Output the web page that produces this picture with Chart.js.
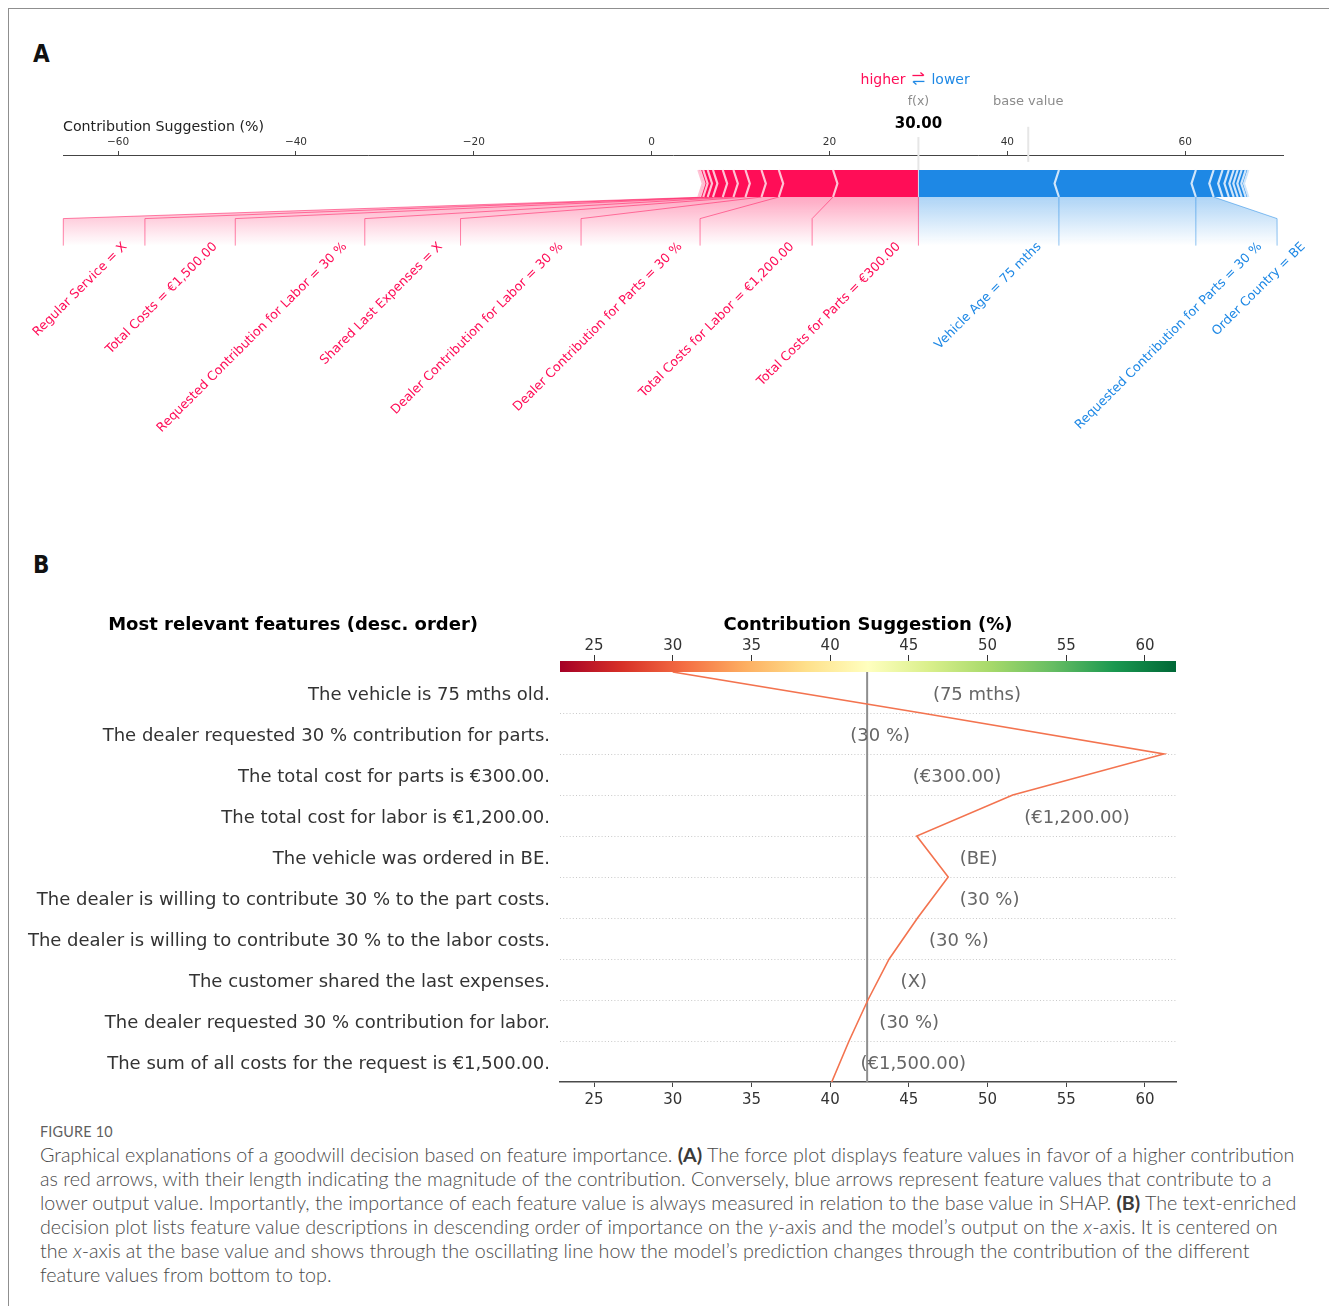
<!DOCTYPE html>
<html>
<head>
<meta charset="utf-8">
<title>Goodwill decision – SHAP force and decision plots</title>
<script src="https://cdn.jsdelivr.net/npm/chart.js@4.4.1/dist/chart.umd.min.js"></script>
<style>
  html, body { margin: 0; padding: 0; background: #fff; width: 1329px; height: 1306px; overflow: hidden; }
  #frame { position: absolute; left: 8px; top: 8px; width: 1400px; height: 1400px;
           border-left: 1.5px solid #8f8f8f; border-top: 1.5px solid #8f8f8f; }
  .panel-label { position: absolute; font-family: "Liberation Sans Narrow", "DejaVu Sans Condensed", "Liberation Sans", sans-serif;
                 font-weight: bold; font-size: 24px; line-height: 24px; color: #111; }
  #cvA { position: absolute; left: 0; top: 0; }
  #cvB { position: absolute; left: 0; top: 590px; }
  #caption { position: absolute; left: 40px; top: 1123px; font-family: Lato, "Open Sans", sans-serif; color: #4a4a4a; }
  #caption .fig { font-size: 14.4px; line-height: 18px; color: #5f5f5f; letter-spacing: 0.2px; margin-bottom: 2px; }
  #caption .ln { font-weight: 300; font-size: 17px; line-height: 24px; white-space: nowrap; }
  #caption b { font-weight: bold; color: #3a3a3a; }
</style>
</head>
<body>
<div id="frame"></div>
<div class="panel-label" style="left:33px; top:42px;">A</div>
<div class="panel-label" style="left:33px; top:553px;">B</div>
<canvas id="cvA" width="1329" height="480"></canvas>
<canvas id="cvB" width="1329" height="530"></canvas>
<div id="caption">
  <div class="fig">FIGURE 10</div>
  <div class="ln">Graphical explanations of a goodwill decision based on feature importance. <b>(A)</b> The force plot displays feature values in favor of a higher contribution</div>
  <div class="ln">as red arrows, with their length indicating the magnitude of the contribution. Conversely, blue arrows represent feature values that contribute to a</div>
  <div class="ln">lower output value. Importantly, the importance of each feature value is always measured in relation to the base value in SHAP. <b>(B)</b> The text-enriched</div>
  <div class="ln">decision plot lists feature value descriptions in descending order of importance on the <i>y</i>-axis and the model’s output on the <i>x</i>-axis. It is centered on</div>
  <div class="ln">the <i>x</i>-axis at the base value and shows through the oscillating line how the model’s prediction changes through the contribution of the different</div>
  <div class="ln">feature values from bottom to top.</div>
</div>
<script>
// ---------------- Panel A: force plot ----------------
const baseValue = 42.35;
const forceTicks = [-60, -40, -20, 0, 20, 40, 60];

// features pushing the prediction higher (largest first)
const posLabels = [
  'Total Costs for Parts = €300.00',
  'Total Costs for Labor = €1,200.00',
  'Dealer Contribution for Parts = 30 %',
  'Dealer Contribution for Labor = 30 %',
  'Shared Last Expenses = X',
  'Requested Contribution for Labor = 30 %',
  'Total Costs = €1,500.00',
  'Regular Service = X'
];
const posShap = [9.6, 6.1, 1.95, 1.8, 1.35, 1.2, 1.1, 0.6];
const posMinor = [0.5, 0.35, 0.2];            // small unlabelled contributions

// features pushing the prediction lower (largest first)
const negLabels = [
  'Vehicle Age = 75 mths',
  'Requested Contribution for Parts = 30 %',
  'Order Country = BE'
];
const negShap = [-15.8, -15.4, -2.0];
const negMinor = [-1.0, -0.7, -0.55, -0.45, -0.45, -0.45, -0.3];

// ---------------- Panel B: decision plot ----------------
const decisionLabels = [
  'The vehicle is 75 mths old.',
  'The dealer requested 30 % contribution for parts.',
  'The total cost for parts is €300.00.',
  'The total cost for labor is €1,200.00.',
  'The vehicle was ordered in BE.',
  'The dealer is willing to contribute 30 % to the part costs.',
  'The dealer is willing to contribute 30 % to the labor costs.',
  'The customer shared the last expenses.',
  'The dealer requested 30 % contribution for labor.',
  'The sum of all costs for the request is €1,500.00.'
];
const decisionShap = [-15.8, -15.4, 9.6, 6.1, -2.0, 1.95, 1.8, 1.35, 1.2, 1.1];
const decisionValues = ['75 mths', '30 %', '€300.00', '€1,200.00', 'BE', '30 %', '30 %', 'X', '30 %', '€1,500.00'];
const decisionTicks = [25, 30, 35, 40, 45, 50, 55, 60];

// ---------------- helpers ----------------
const FONT = '"DejaVu Sans", Verdana, sans-serif';
const RED = '#FF0D57', RED_LIGHT = '#FFC3D5', BLUE = '#1E88E5', BLUE_LIGHT = '#D1E6FA';
const RdYlGn = ['#a50026', '#d73027', '#f46d43', '#fdae61', '#fee08b', '#ffffbf',
                '#d9ef8b', '#a6d96a', '#66bd63', '#1a9850', '#006837'];
const sum = a => a.reduce((s, v) => s + v, 0);
const outputValue = baseValue + sum(posShap) + sum(posMinor) + sum(negShap) + sum(negMinor);

const minusFmt = v => (v < 0 ? '\u2212' + Math.abs(v) : String(v));

// ---------------- force plot drawing ----------------
const A_MIN = -66.2, A_MAX = 71.0;

const forcePlugin = {
  id: 'forcePlot',
  afterDraw(chart) {
    const ctx = chart.ctx, xs = chart.scales.x, ys = chart.scales.y;
    const X = v => xs.getPixelForValue(v), Y = v => ys.getPixelForValue(v);
    const fxPx = X(outputValue);
    const barH = 0.1;
    const indent = X(A_MIN + (A_MAX - A_MIN) / 280) - X(A_MIN);

    const posAll = posShap.concat(posMinor), negAll = negShap.concat(negMinor);
    const posEdges = []; let acc = outputValue;
    posAll.forEach(v => { acc -= v; posEdges.push(acc); });
    const negEdges = []; acc = outputValue;
    negAll.forEach(v => { acc -= v; negEdges.push(acc); });

    const poly = (pts) => { ctx.beginPath(); pts.forEach((p, i) => i ? ctx.lineTo(p[0], p[1]) : ctx.moveTo(p[0], p[1])); };

    ctx.save();

    // guide lines for f(x) and base value
    ctx.strokeStyle = '#e6e6e6'; ctx.lineWidth = 2;
    poly([[X(baseValue), Y(0.26)], [X(baseValue), Y(0.13)]]); ctx.stroke();
    poly([[fxPx, Y(0.222)], [fxPx, Y(0)]]); ctx.stroke();

    // label layout
    const labelSize = 12.7;
    const labelFont = `${labelSize}px ${FONT}`;
    ctx.font = labelFont;
    const c45 = Math.SQRT1_2, txtH = labelSize * 1.16, off = 14;
    function layout(labels, edges, sign) {
      let start = fxPx, lastVal = fxPx, lastEnd = fxPx;
      const items = [], paths = [];
      labels.forEach((lab, i) => {
        const val = X(edges[i]);
        const w = ctx.measureText(lab).width;
        const ext = c45 * (w + txtH);
        items.push({ lab, ax: start - sign * off, w });
        const boxEnd = start - sign * (31.5 + 0.5 * ext);
        if (sign * boxEnd > sign * val) {
          paths.push([[val, Y(0)], [val, Y(-0.18)]]);
          start = val; lastEnd = val;
        } else {
          paths.push([[val, Y(0)], [boxEnd, Y(-0.08)], [boxEnd, Y(-0.18)]]);
          start = boxEnd; lastEnd = boxEnd;
        }
        lastVal = val;
      });
      return { items, paths, lastVal, lastEnd };
    }
    const posL = layout(posLabels, posEdges, 1);
    const negL = layout(negLabels, negEdges, -1);

    // shaded fans under the bars
    function shade(L, rgb) {
      poly([[fxPx, Y(0)], [L.lastVal, Y(0)], [L.lastEnd, Y(-0.08)], [L.lastEnd, Y(-0.2)], [fxPx, Y(-0.2)]]);
      ctx.closePath();
      const g = ctx.createLinearGradient(0, Y(0), 0, Y(-0.18));
      g.addColorStop(0, `rgba(${rgb},0.36)`);
      g.addColorStop(1, `rgba(${rgb},0)`);
      ctx.fillStyle = g; ctx.fill();
    }
    shade(posL, '255,13,87');
    shade(negL, '30,136,229');

    // connector lines
    ctx.lineWidth = 1;
    ctx.strokeStyle = 'rgba(255,13,87,0.5)';
    poly([[fxPx, Y(0)], [fxPx, Y(-0.18)]]); ctx.stroke();
    posL.paths.forEach(p => { poly(p); ctx.stroke(); });
    ctx.strokeStyle = 'rgba(30,136,229,0.5)';
    negL.paths.forEach(p => { poly(p); ctx.stroke(); });

    // bars
    function bars(edges, sign, color, light) {
      const ind = sign * indent;
      const seps = [];
      edges.forEach((e, k) => {
        const prev = k === 0 ? outputValue : edges[k - 1];
        const sepPos = X(e);
        let pts;
        if (sign > 0) {
          const left = X(e), right = X(prev);
          pts = k === 0
            ? [[left, Y(0)], [right, Y(0)], [right, Y(barH)], [left, Y(barH)], [left + ind, Y(barH / 2)]]
            : [[left, Y(0)], [right, Y(0)], [right + ind * 0.9, Y(barH / 2)], [right, Y(barH)], [left, Y(barH)], [left + ind * 0.9, Y(barH / 2)]];
        } else {
          const left = X(prev), right = X(e);
          pts = k === 0
            ? [[right, Y(0)], [left, Y(0)], [left, Y(barH)], [right, Y(barH)], [right + ind, Y(barH / 2)]]
            : [[left, Y(0)], [right, Y(0)], [right + ind * 0.9, Y(barH / 2)], [right, Y(barH)], [left, Y(barH)], [left + ind * 0.9, Y(barH / 2)]];
        }
        poly(pts); ctx.closePath(); ctx.fillStyle = color; ctx.fill();
        seps.push([[sepPos, Y(0)], [sepPos + ind, Y(barH / 2)], [sepPos, Y(barH)]]);
      });
      ctx.strokeStyle = light; ctx.lineWidth = 2.2; ctx.lineJoin = 'miter';
      seps.forEach(s => { poly(s); ctx.stroke(); });
    }
    bars(posEdges, 1, RED, RED_LIGHT);
    bars(negEdges, -1, BLUE, BLUE_LIGHT);
    ctx.strokeStyle = 'rgba(255,255,255,0.7)'; ctx.lineWidth = 1;
    poly([[fxPx, Y(0)], [fxPx, Y(barH)]]); ctx.stroke();

    // rotated feature labels
    ctx.font = labelFont; ctx.textBaseline = 'top';
    function texts(L, sign, color) {
      ctx.fillStyle = color;
      L.items.forEach(it => {
        ctx.save();
        if (sign > 0) { ctx.translate(it.ax - c45 * txtH, Y(-0.16)); ctx.textAlign = 'right'; }
        else { ctx.translate(it.ax, Y(-0.16) + c45 * it.w); ctx.textAlign = 'left'; }
        ctx.rotate(-Math.PI / 4);
        ctx.fillText(it.lab, 0, 0);
        ctx.restore();
      });
    }
    texts(posL, 1, RED);
    texts(negL, -1, BLUE);

    // higher ⇄ lower legend
    ctx.textBaseline = 'alphabetic';
    ctx.font = `14px ${FONT}`;
    ctx.textAlign = 'right'; ctx.fillStyle = RED; ctx.fillText('higher', fxPx - 13, Y(0.418));
    ctx.textAlign = 'left'; ctx.fillStyle = BLUE; ctx.fillText('lower', fxPx + 13, Y(0.418));
    ctx.lineWidth = 1.3;
    ctx.strokeStyle = RED;
    poly([[fxPx - 6, Y(0.45)], [fxPx + 5, Y(0.45)]]); ctx.stroke();
    poly([[fxPx + 2, Y(0.45) - 3], [fxPx + 5.5, Y(0.45)]]); ctx.stroke();
    ctx.strokeStyle = BLUE;
    poly([[fxPx + 6, Y(0.428)], [fxPx - 5, Y(0.428)]]); ctx.stroke();
    poly([[fxPx - 2, Y(0.428) + 3], [fxPx - 5.5, Y(0.428)]]); ctx.stroke();

    // f(x), base value and output value
    ctx.textAlign = 'center';
    ctx.font = `12.5px ${FONT}`; ctx.fillStyle = '#8c8c8c';
    ctx.fillText('f(x)', fxPx, Y(0.34));
    ctx.font = `13px ${FONT}`;
    ctx.fillText('base value', X(baseValue), Y(0.34));
    ctx.font = `bold 15px ${FONT}`; ctx.fillStyle = '#000';
    ctx.fillText(outputValue.toFixed(2), fxPx, Y(0.255));

    ctx.restore();
  }
};

new Chart(document.getElementById('cvA'), {
  type: 'scatter',
  data: { datasets: [{ data: [] }] },
  options: {
    responsive: false, animation: false, events: [],
    layout: { padding: { left: 63, right: 46, top: 0, bottom: 148 } },
    plugins: { legend: { display: false }, tooltip: { enabled: false } },
    scales: {
      x: {
        type: 'linear', position: 'top', min: A_MIN, max: A_MAX,
        afterBuildTicks: s => { s.ticks = forceTicks.map(v => ({ value: v })); },
        afterFit: s => { s.height = 155; },
        ticks: { callback: v => minusFmt(v), font: { family: FONT, size: 10.5 }, color: '#333', padding: 2.5, maxRotation: 0, autoSkip: false },
        grid: { drawOnChartArea: false, drawTicks: true, tickLength: 4, tickColor: '#444', tickWidth: 1 },
        border: { display: true, color: '#444', width: 1 },
        title: { display: true, text: 'Contribution Suggestion (%)', align: 'start',
                 font: { family: FONT, size: 14.2 }, color: '#222', padding: { top: 118.5, bottom: 0 } }
      },
      y: { type: 'linear', display: false, min: -0.5, max: 42 / 270 }
    }
  },
  plugins: [forcePlugin]
});

// ---------------- decision plot ----------------
const B_MIN = 22.84, B_MAX = 61.97;
const pathStart = outputValue - sum(decisionShap);
const decisionPath = [{ x: pathStart, y: 0 }];
(function () {
  let acc = pathStart;
  for (let k = 0; k < decisionShap.length; k++) {
    acc += decisionShap[decisionShap.length - 1 - k];
    decisionPath.push({ x: acc, y: k + 1 });
  }
})();
const lineColor = '#f3734f';

const decisionPlugin = {
  id: 'decisionDecor',
  beforeDatasetsDraw(chart) {
    const ctx = chart.ctx, xs = chart.scales.x, ys = chart.scales.y, ca = chart.chartArea;
    ctx.save();
    // colour bar
    const g = ctx.createLinearGradient(xs.getPixelForValue(B_MIN), 0, xs.getPixelForValue(B_MAX), 0);
    RdYlGn.forEach((c, i) => g.addColorStop(i / (RdYlGn.length - 1), c));
    ctx.fillStyle = g;
    ctx.fillRect(ca.left, ca.top - 11, ca.right - ca.left, 11);
    // dotted row separators
    ctx.strokeStyle = '#c9c9c9'; ctx.lineWidth = 1; ctx.setLineDash([1, 2.2]);
    for (let r = 1; r < decisionLabels.length; r++) {
      const y = Math.round(ys.getPixelForValue(r)) + 0.5;
      ctx.beginPath(); ctx.moveTo(ca.left, y); ctx.lineTo(ca.right, y); ctx.stroke();
    }
    ctx.setLineDash([]);
    // base value line
    const bx = xs.getPixelForValue(baseValue);
    ctx.strokeStyle = '#8e8e8e'; ctx.lineWidth = 2;
    ctx.beginPath(); ctx.moveTo(bx, ca.top); ctx.lineTo(bx, ca.bottom); ctx.stroke();
    ctx.restore();
  },
  afterDatasetsDraw(chart) {
    const ctx = chart.ctx, xs = chart.scales.x, ys = chart.scales.y;
    ctx.save();
    ctx.font = `18px ${FONT}`; ctx.fillStyle = '#666'; ctx.textBaseline = 'middle';
    const n = decisionLabels.length;
    decisionValues.forEach((v, i) => {
      const lo = decisionPath[n - 1 - i].x, hi = decisionPath[n - i].x;
      const yc = ys.getPixelForValue(n - 0.5 - i) + 3;
      let txt = '  (' + v + ')';
      let x = xs.getPixelForValue(Math.max(lo, hi));
      ctx.textAlign = 'left';
      if (x + ctx.measureText(txt).width > xs.getPixelForValue(B_MAX)) {
        txt = '(' + v + ')  ';
        x = xs.getPixelForValue(Math.min(lo, hi));
        ctx.textAlign = 'right';
      }
      ctx.fillText(txt, x, yc);
    });
    ctx.restore();
  },
  afterDraw(chart) {
    const ctx = chart.ctx, ca = chart.chartArea;
    ctx.save();
    ctx.font = `bold 18px ${FONT}`; ctx.fillStyle = '#000';
    ctx.textAlign = 'right'; ctx.textBaseline = 'middle';
    ctx.fillText('Most relevant features (desc. order)', ca.left - 82, 35);
    ctx.restore();
  }
};

const tickFontB = { family: FONT, size: 15 };
new Chart(document.getElementById('cvB'), {
  type: 'line',
  data: {
    datasets: [{
      data: decisionPath, parsing: false, xAxisID: 'x', yAxisID: 'y',
      borderColor: lineColor, borderWidth: 1.6, pointRadius: 0, tension: 0, fill: false
    }]
  },
  options: {
    responsive: false, animation: false, events: [],
    layout: { padding: { left: 0, right: 153, top: 0, bottom: 0 } },
    plugins: { legend: { display: false }, tooltip: { enabled: false } },
    scales: {
      x: {
        type: 'linear', position: 'bottom', min: B_MIN, max: B_MAX,
        afterBuildTicks: s => { s.ticks = decisionTicks.map(v => ({ value: v })); },
        afterFit: s => { s.height = 38; },
        ticks: { font: tickFontB, color: '#333', padding: 4, maxRotation: 0, autoSkip: false },
        grid: { drawOnChartArea: false, tickLength: 5, tickColor: '#444' },
        border: { display: true, color: '#4a4a4a', width: 1.6 }
      },
      x2: {
        type: 'linear', position: 'top', min: B_MIN, max: B_MAX,
        afterBuildTicks: s => { s.ticks = decisionTicks.map(v => ({ value: v })); },
        afterFit: s => { s.height = 82; },
        ticks: { font: tickFontB, color: '#333', padding: 0, maxRotation: 0, autoSkip: false },
        grid: { drawOnChartArea: false, tickLength: 17, tickColor: '#333' },
        border: { display: false },
        title: { display: true, text: 'Contribution Suggestion (%)',
                 font: { family: FONT, size: 18, weight: 'bold' }, color: '#000', padding: { top: 24.2, bottom: 0 } }
      },
      y: {
        type: 'linear', position: 'left', min: 0, max: decisionLabels.length,
        afterBuildTicks: s => { s.ticks = decisionLabels.map((_, i) => ({ value: decisionLabels.length - 0.5 - i })); },
        afterFit: s => { s.width = 560; },
        ticks: { callback: (v, i) => decisionLabels[i], font: { family: FONT, size: 18 }, color: '#333', padding: 10, labelOffset: 3, autoSkip: false },
        grid: { display: false, drawTicks: false },
        border: { display: false }
      }
    }
  },
  plugins: [decisionPlugin]
});

// fit caption lines to the text block width
(function () {
  const lines = document.querySelectorAll('#caption .ln');
  const target = 1257;
  const w = lines[0].getBoundingClientRect().width;
  const size = 17 * target / w;
  lines.forEach(l => { l.style.fontSize = size.toFixed(2) + 'px'; });
})();
</script>
</body>
</html>
